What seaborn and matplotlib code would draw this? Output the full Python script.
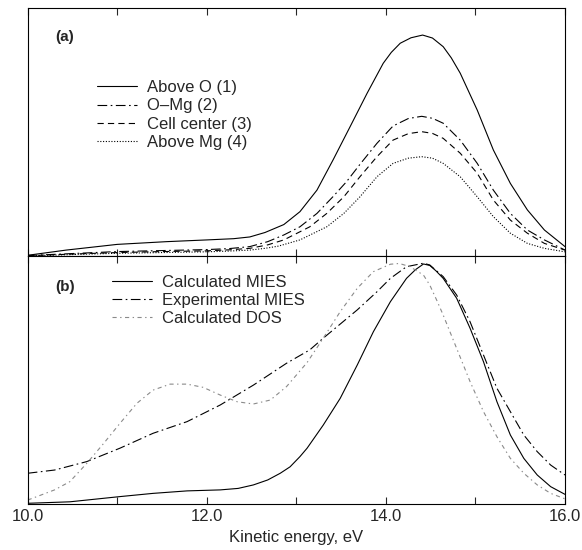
import numpy as np
import pandas as pd
import seaborn as sns
import matplotlib
matplotlib.use("Agg")
import matplotlib.pyplot as plt
from matplotlib.ticker import MultipleLocator, FormatStrFormatter

# ---- panel (a): calculated MIES at four surface positions ----
e_above_o = [10.0, 10.43, 11.0, 11.55, 12.0, 12.3, 12.48, 12.65, 12.86, 13.04, 13.23, 13.41, 13.60,
             13.79, 13.97, 14.06, 14.16, 14.28, 14.41, 14.52, 14.64, 14.73, 14.83, 15.02, 15.20,
             15.39, 15.58, 15.77, 16.0]
y_above_o = [0.003, 0.024, 0.047, 0.058, 0.065, 0.070, 0.077, 0.095, 0.127, 0.179, 0.266, 0.388, 0.522,
             0.657, 0.778, 0.822, 0.859, 0.881, 0.892, 0.880, 0.845, 0.800, 0.738, 0.589, 0.428,
             0.293, 0.186, 0.105, 0.038]

e_o_mg = [10.0, 10.5, 11.0, 11.5, 12.0, 12.25, 12.48, 12.68, 12.86, 13.04, 13.23, 13.41, 13.56, 13.71,
          13.90, 14.08, 14.25, 14.40, 14.52, 14.64, 14.83, 15.02, 15.20, 15.39, 15.58, 15.77, 16.0]
y_o_mg = [0.002, 0.010, 0.018, 0.022, 0.026, 0.030, 0.038, 0.058, 0.085, 0.118, 0.172, 0.240, 0.300, 0.370,
          0.455, 0.525, 0.555, 0.564, 0.556, 0.536, 0.468, 0.374, 0.266, 0.172, 0.105, 0.065, 0.024]

e_cell = [10.0, 10.5, 11.0, 11.5, 12.0, 12.25, 12.48, 12.68, 12.86, 13.15, 13.34, 13.53, 13.71, 13.90,
          14.08, 14.25, 14.40, 14.52, 14.64, 14.83, 15.02, 15.20, 15.39, 15.58, 15.77, 16.0]
y_cell = [0.001, 0.008, 0.014, 0.018, 0.021, 0.025, 0.031, 0.045, 0.065, 0.118, 0.172, 0.239, 0.320, 0.401,
          0.468, 0.494, 0.502, 0.495, 0.475, 0.415, 0.334, 0.226, 0.145, 0.092, 0.051, 0.024]

e_above_mg = [10.0, 10.5, 11.0, 11.5, 12.0, 12.25, 12.48, 12.65, 12.80, 13.04, 13.34, 13.53, 13.71,
              13.90, 14.08, 14.25, 14.40, 14.52, 14.64, 14.83, 15.02, 15.20, 15.39, 15.58, 15.77, 16.0]
y_above_mg = [0.0, 0.006, 0.011, 0.014, 0.017, 0.020, 0.024, 0.031, 0.040, 0.065, 0.118, 0.172, 0.239,
              0.320, 0.374, 0.395, 0.401, 0.395, 0.374, 0.320, 0.239, 0.159, 0.092, 0.051, 0.031, 0.017]

# ---- panel (b): calculated vs experimental MIES and DOS ----
e_calc = [10.0, 10.47, 11.03, 11.40, 11.78, 12.15, 12.35, 12.52, 12.68, 12.82, 12.93, 13.04, 13.12,
          13.30, 13.49, 13.68, 13.86, 14.05, 14.23, 14.33, 14.42, 14.49, 14.56, 14.64, 14.79, 14.94,
          15.09, 15.24, 15.39, 15.54, 15.69, 15.84, 16.0]
y_calc = [0.004, 0.010, 0.031, 0.044, 0.054, 0.058, 0.064, 0.078, 0.098, 0.125, 0.151, 0.192, 0.226,
          0.319, 0.427, 0.561, 0.695, 0.816, 0.910, 0.945, 0.968, 0.962, 0.940, 0.910, 0.830, 0.709,
          0.574, 0.413, 0.279, 0.185, 0.118, 0.071, 0.040]

e_exp = [10.0, 10.30, 10.66, 11.03, 11.40, 11.78, 12.15, 12.52, 12.89, 13.15, 13.30, 13.68, 13.90,
         14.05, 14.23, 14.42, 14.49, 14.64, 14.79, 14.94, 15.09, 15.24, 15.39, 15.54, 15.69, 15.84, 16.0]
y_exp = [0.125, 0.138, 0.172, 0.226, 0.286, 0.333, 0.400, 0.480, 0.568, 0.622, 0.669, 0.783, 0.856,
         0.910, 0.957, 0.971, 0.964, 0.917, 0.843, 0.735, 0.601, 0.467, 0.373, 0.279, 0.212, 0.158, 0.118]

e_dos = [10.0, 10.30, 10.47, 10.66, 10.85, 11.03, 11.22, 11.40, 11.59, 11.78, 11.96, 12.15, 12.34,
         12.52, 12.71, 12.89, 13.12, 13.30, 13.49, 13.68, 13.86, 14.05, 14.15, 14.27, 14.42, 14.49,
         14.57, 14.64, 14.79, 14.94, 15.09, 15.24, 15.39, 15.54, 15.69, 15.84, 16.0]
y_dos = [0.017, 0.058, 0.091, 0.165, 0.246, 0.326, 0.407, 0.460, 0.484, 0.484, 0.471, 0.440, 0.413,
         0.404, 0.420, 0.474, 0.571, 0.669, 0.776, 0.870, 0.937, 0.967, 0.970, 0.957, 0.923, 0.883,
         0.820, 0.762, 0.628, 0.494, 0.373, 0.272, 0.185, 0.125, 0.078, 0.044, 0.022]

sns.set_style("ticks")
plt.rcParams["font.family"] = ["Liberation Sans", "DejaVu Sans"]
plt.rcParams["lines.scale_dashes"] = False

fig = plt.figure(figsize=(5.82, 5.5), dpi=100)
ax_a = fig.add_axes([0.0476, 0.5345, 0.9232, 0.4504])
ax_b = fig.add_axes([0.0476, 0.0831, 0.9232, 0.4514])

lw = 0.8
dashdot = (0, (7, 2.5, 1.2, 2.5))
dashed = (0, (4.5, 3))
dotted = (0, (0.8, 1.2))
dos_style = (0, (3, 2.5, 1, 2.5))

sns.lineplot(x=e_above_o, y=y_above_o, ax=ax_a, color="k", lw=lw, label="Above O (1)")
sns.lineplot(x=e_o_mg, y=y_o_mg, ax=ax_a, color="k", lw=lw, linestyle=dashdot, label="O\u2013Mg (2)")
sns.lineplot(x=e_cell, y=y_cell, ax=ax_a, color="k", lw=lw, linestyle=dashed, label="Cell center (3)")
sns.lineplot(x=e_above_mg, y=y_above_mg, ax=ax_a, color="k", lw=lw, linestyle=dotted, label="Above Mg (4)")

sns.lineplot(x=e_calc, y=y_calc, ax=ax_b, color="k", lw=lw, label="Calculated MIES")
sns.lineplot(x=e_exp, y=y_exp, ax=ax_b, color="k", lw=lw, linestyle=dashdot, label="Experimental MIES")
sns.lineplot(x=e_dos, y=y_dos, ax=ax_b, color="#8a8a8a", lw=lw, linestyle=dos_style, label="Calculated DOS")

for ax in (ax_a, ax_b):
    ax.set_xlim(10.0, 16.0)
    ax.set_ylim(0, 1.0)
    ax.set_yticks([])
    ax.set_ylabel("")
    ax.xaxis.set_major_locator(MultipleLocator(2.0))
    ax.xaxis.set_minor_locator(MultipleLocator(1.0))
    ax.tick_params(axis="x", which="both", direction="in", top=True, bottom=True,
                   length=5, width=0.8, labelsize=12)
    for s in ax.spines.values():
        s.set_visible(True)
        s.set_linewidth(0.8)
        s.set_color("k")

ax_a.tick_params(axis="x", labelbottom=False)
ax_b.xaxis.set_major_formatter(FormatStrFormatter("%.1f"))
ax_b.set_xlabel("Kinetic energy, eV", fontsize=12, labelpad=4)

ax_a.text(0.051, 0.884, "(a)", transform=ax_a.transAxes, fontsize=11, fontweight="bold", va="center")
ax_b.text(0.051, 0.875, "(b)", transform=ax_b.transAxes, fontsize=11, fontweight="bold", va="center")

leg_kw = dict(frameon=False, fontsize=12, handlelength=2.4, handletextpad=0.6,
              labelspacing=0.2, borderpad=0, borderaxespad=0, loc="upper left")
ax_a.legend(bbox_to_anchor=(0.129, 0.71), **leg_kw)
ax_b.legend(bbox_to_anchor=(0.157, 0.925), **leg_kw)

fig.savefig("out.png", dpi=100)
